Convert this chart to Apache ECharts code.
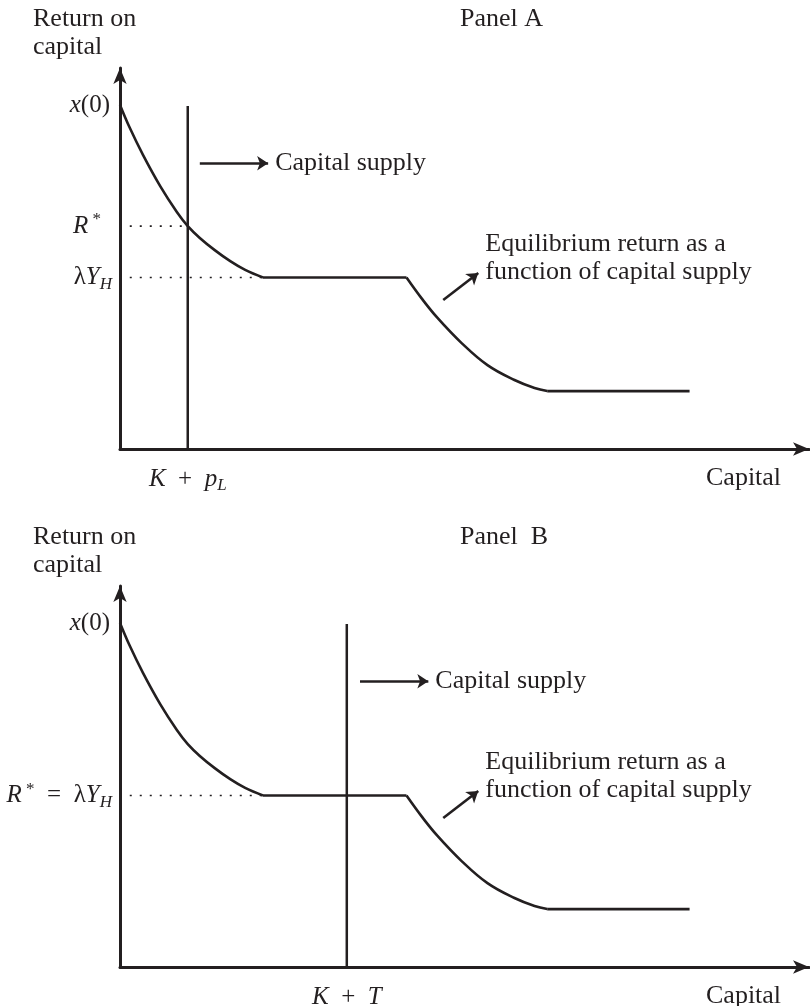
<!DOCTYPE html>
<html><head><meta charset="utf-8">
<script src="https://cdn.jsdelivr.net/npm/echarts@6/dist/echarts.min.js"></script>
<style>html,body{margin:0;padding:0;background:#fff}#c{width:810px;height:1006px}</style>
</head><body><div id="c"></div>
<script>
// ---- data (abstract units: capital 0..12, return 0..10) ----
const drop1X = [0, 0.17, 0.40, 0.70, 0.99, 1.18, 1.39, 1.65, 1.92, 2.18, 2.49];
const drop1Y = [9.03, 8.43, 7.72, 6.90, 6.22, 5.85, 5.54, 5.22, 4.93, 4.70, 4.50];
const flat1X = [2.49, 4.99];
const flat1Y = [4.50, 4.50];
const drop2X = [4.99, 5.25, 5.53, 5.95, 6.40, 6.87, 7.22, 7.44];
const drop2Y = [4.50, 3.96, 3.44, 2.78, 2.20, 1.81, 1.60, 1.52];
const flat2X = [7.44, 9.92];
const flat2Y = [1.52, 1.52];
const supplyX = [1.18, 3.95];        // panel A, panel B
const supplyTop = 9.0;
const rStar = [5.85, 4.50];          // panel A, panel B
const lambdaYH = 4.50;
const x0Value = 9.03;
const dotStartX = 0.17;
const supplyArrowY = 7.5;
const supplyArrowX = [[1.39, 2.58], [4.18, 5.37]];
const eqArrow = [[5.63, 3.91], [6.24, 4.62]];
const panelNames = ['Panel A', 'Panel  B'];
const xTickLabels = ['{i|K}{n|  +  }{i|p}{sub|L}', '{i|K}{n|  +  }{i|T}'];

const INK = '#231f20';
const SERIF = '"Liberation Serif", "Times New Roman", serif';
const zip = (xs, ys) => xs.map((x, i) => [x, ys[i]]);

const grids = [
  {left: 120, top: 68, width: 689, height: 381},
  {left: 120, top: 586, width: 689, height: 381}
];
const xAxes = [], yAxes = [], series = [];
grids.forEach((g, gi) => {
  xAxes.push({gridIndex: gi, type: 'value', min: 0, max: 12,
    axisLine: {show: true, onZero: false, symbol: ['none', 'arrow'], symbolSize: [10, 16],
      lineStyle: {color: INK, width: 3}},
    axisTick: {show: false}, axisLabel: {show: false}, splitLine: {show: false}});
  yAxes.push({gridIndex: gi, type: 'value', min: 0, max: 10,
    axisLine: {show: true, onZero: false, symbol: ['none', 'arrow'], symbolSize: [10, 16],
      lineStyle: {color: INK, width: 3}},
    axisTick: {show: false}, axisLabel: {show: false}, splitLine: {show: false}});
  const base = {xAxisIndex: gi, yAxisIndex: gi, showSymbol: false, silent: true, animation: false};
  [[drop1X, drop1Y, 0.4], [flat1X, flat1Y, 0], [drop2X, drop2Y, 0.4], [flat2X, flat2Y, 0]].forEach(([xs, ys, sm]) => {
    series.push(Object.assign({type: 'line', data: zip(xs, ys), smooth: sm,
      lineStyle: {color: INK, width: 2.6}}, base));
  });
  // capital supply vertical line
  series.push(Object.assign({type: 'line', data: [[supplyX[gi], 0], [supplyX[gi], supplyTop]],
    lineStyle: {color: INK, width: 2.5}}, base));
  // dotted guide lines
  if (gi === 0) {
    series.push(Object.assign({type: 'line', data: [[dotStartX, rStar[0]], [supplyX[0], rStar[0]]],
      lineStyle: {color: INK, width: 1.6, type: [2, 8]}}, base));
  }
  series.push(Object.assign({type: 'line', data: [[dotStartX, lambdaYH], [flat1X[0], lambdaYH]],
    lineStyle: {color: INK, width: 1.6, type: [2, 8]}}, base));
  // arrows
  series.push({type: 'lines', coordinateSystem: 'cartesian2d', xAxisIndex: gi, yAxisIndex: gi,
    silent: true, animation: false, symbol: ['none', 'arrow'], symbolSize: 11,
    lineStyle: {color: INK, width: 2.6, opacity: 1},
    data: [
      {coords: [[supplyArrowX[gi][0], supplyArrowY], [supplyArrowX[gi][1], supplyArrowY]]},
      {coords: eqArrow}
    ]});
});

const chart = echarts.init(document.getElementById('c'), null, {renderer: 'canvas'});
chart.setOption({
  backgroundColor: '#fff', animation: false,
  grid: grids, xAxis: xAxes, yAxis: yAxes, series: series
});

const rich = {
  i: {fontFamily: SERIF, fontSize: 25, fontStyle: 'italic', fill: INK, color: INK, lineHeight: 30},
  n: {fontFamily: SERIF, fontSize: 25, fill: INK, color: INK, lineHeight: 30},
  sub: {fontFamily: SERIF, fontSize: 17, fontStyle: 'italic', fill: INK, color: INK, lineHeight: 14, verticalAlign: 'bottom'},
  sup: {fontFamily: SERIF, fontSize: 17, fill: INK, color: INK, lineHeight: 14, verticalAlign: 'top'}
};
const px = (gi, x, y) => chart.convertToPixel({gridIndex: gi}, [x, y]);
const txt = (x, y, text, align, vAlign, extra) => ({
  type: 'text', x: x, y: y, silent: true,
  style: Object.assign({text: text, fill: INK, font: '26px ' + SERIF, align: align, verticalAlign: vAlign,
    lineHeight: 28, rich: rich}, extra || {})
});
const g = [];
grids.forEach((gr, gi) => {
  const top = gi === 0 ? 0 : 518;
  g.push(txt(33, 5 + top, 'Return on\ncapital', 'left', 'top'));
  g.push(txt(460, 5 + top, panelNames[gi], 'left', 'top'));
  const o = px(gi, 0, 0);
  g.push(txt(706, o[1] + 29, 'Capital', 'left', 'middle'));
  const x0p = px(gi, 0, x0Value);
  g.push(txt(x0p[0] - 10, x0p[1], '{i|x}{n|(0)}', 'right', 'middle'));
  if (gi === 0) {
    const r = px(0, 0, rStar[0]);
    g.push(txt(r[0] - 19, r[1], '{i|R}{sup| *}', 'right', 'middle'));
    const l = px(0, 0, lambdaYH);
    g.push(txt(l[0] - 8, l[1], '{n|λ}{i|Y}{sub|H}', 'right', 'middle'));
  } else {
    const l = px(1, 0, lambdaYH);
    g.push(txt(l[0] - 8, l[1], '{i|R}{sup| *}{n|  =  λ}{i|Y}{sub|H}', 'right', 'middle'));
  }
  const s = px(gi, supplyX[gi], 0);
  g.push(txt(s[0], s[1] + 30, xTickLabels[gi], 'center', 'middle'));
  const a = px(gi, supplyArrowX[gi][1], supplyArrowY);
  g.push(txt(a[0] + 7, a[1], 'Capital supply', 'left', 'middle'));
  const e = px(gi, eqArrow[1][0], eqArrow[1][1]);
  g.push(txt(e[0] + 7, e[1] - 15, 'Equilibrium return as a\nfunction of capital supply', 'left', 'middle'));
});
chart.setOption({graphic: g});
</script></body></html>
